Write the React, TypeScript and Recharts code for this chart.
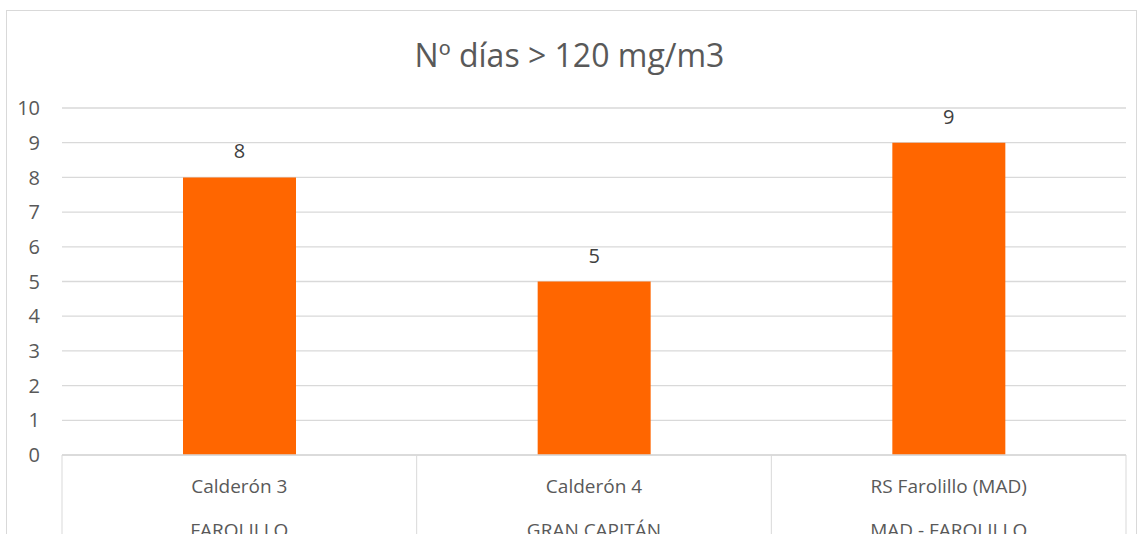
import { BarChart, Bar, XAxis, YAxis, CartesianGrid, LabelList } from 'recharts'

const categories = ['Calderón 3', 'Calderón 4', 'RS Farolillo (MAD)']
const subCategories = ['FAROLILLO', 'GRAN CAPITÁN', 'MAD - FAROLILLO']
const days = [8, 5, 9]
const yTicks = [0, 1, 2, 3, 4, 5, 6, 7, 8, 9, 10]

const data = categories.map((name, i) => ({ name, sub: subCategories[i], days: days[i] }))

const W = 1139
const H = 534
const margin = { top: 108, right: 13, bottom: 0, left: 0 }
const Y_WIDTH = 62
const band = (W - margin.left - margin.right - Y_WIDTH) / categories.length
const font = '"Open Sans", sans-serif'

function CategoryTick(props: any) {
  const { x, y, payload, index } = props
  const half = band / 2
  const last = index === categories.length - 1
  return (
    <g>
      <line x1={x - half} y1={y} x2={x - half} y2={y + 90} stroke="#d9d9d9" />
      {last && <line x1={x + half} y1={y} x2={x + half} y2={y + 90} stroke="#d9d9d9" />}
      <text x={x} y={y + 31} textAnchor="middle" dominantBaseline="central" fill="#595959" fontSize={19} fontFamily={font}>
        {payload.value}
      </text>
      <text x={x} y={y + 75} textAnchor="middle" dominantBaseline="central" fill="#595959" fontSize={19} fontFamily={font}>
        {subCategories[index]}
      </text>
    </g>
  )
}

export default function App() {
  return (
    <div style={{ position: 'absolute', left: 0, top: 0, width: W, height: H, overflow: 'hidden', background: '#fff' }}>
      <div
        style={{
          position: 'absolute',
          left: 6,
          top: 10,
          width: 1131,
          height: 560,
          border: '1px solid #d9d9d9',
          boxSizing: 'border-box',
        }}
      />
      <div
        style={{
          position: 'absolute',
          left: 0,
          width: W,
          top: 35,
          textAlign: 'center',
          fontFamily: font,
          fontSize: 32,
          color: '#595959',
          lineHeight: '40px',
        }}
      >
        Nº días &gt; 120 mg/m3
      </div>
      <div style={{ position: 'absolute', left: 0, top: 0 }}>
        <BarChart width={W} height={H} data={data} margin={margin}>
          <CartesianGrid vertical={false} stroke="#d9d9d9" strokeWidth={1.3} />
          <XAxis
            dataKey="name"
            height={H - 455}
            axisLine={{ stroke: '#d9d9d9', strokeWidth: 1.3 }}
            tickLine={false}
            tickSize={0}
            tickMargin={0}
            interval={0}
            tick={<CategoryTick />}
          />
          <YAxis
            width={Y_WIDTH}
            domain={[0, 10]}
            ticks={yTicks}
            axisLine={false}
            tickLine={false}
            tickSize={0}
            tickMargin={22}
            tick={{ fill: '#595959', fontSize: 20, fontFamily: font }}
          />
          <Bar dataKey="days" fill="#ff6600" barSize={113} isAnimationActive={false}>
            <LabelList dataKey="days" position="top" offset={19} fill="#404040" fontSize={20} fontFamily={font} />
          </Bar>
        </BarChart>
      </div>
    </div>
  )
}
